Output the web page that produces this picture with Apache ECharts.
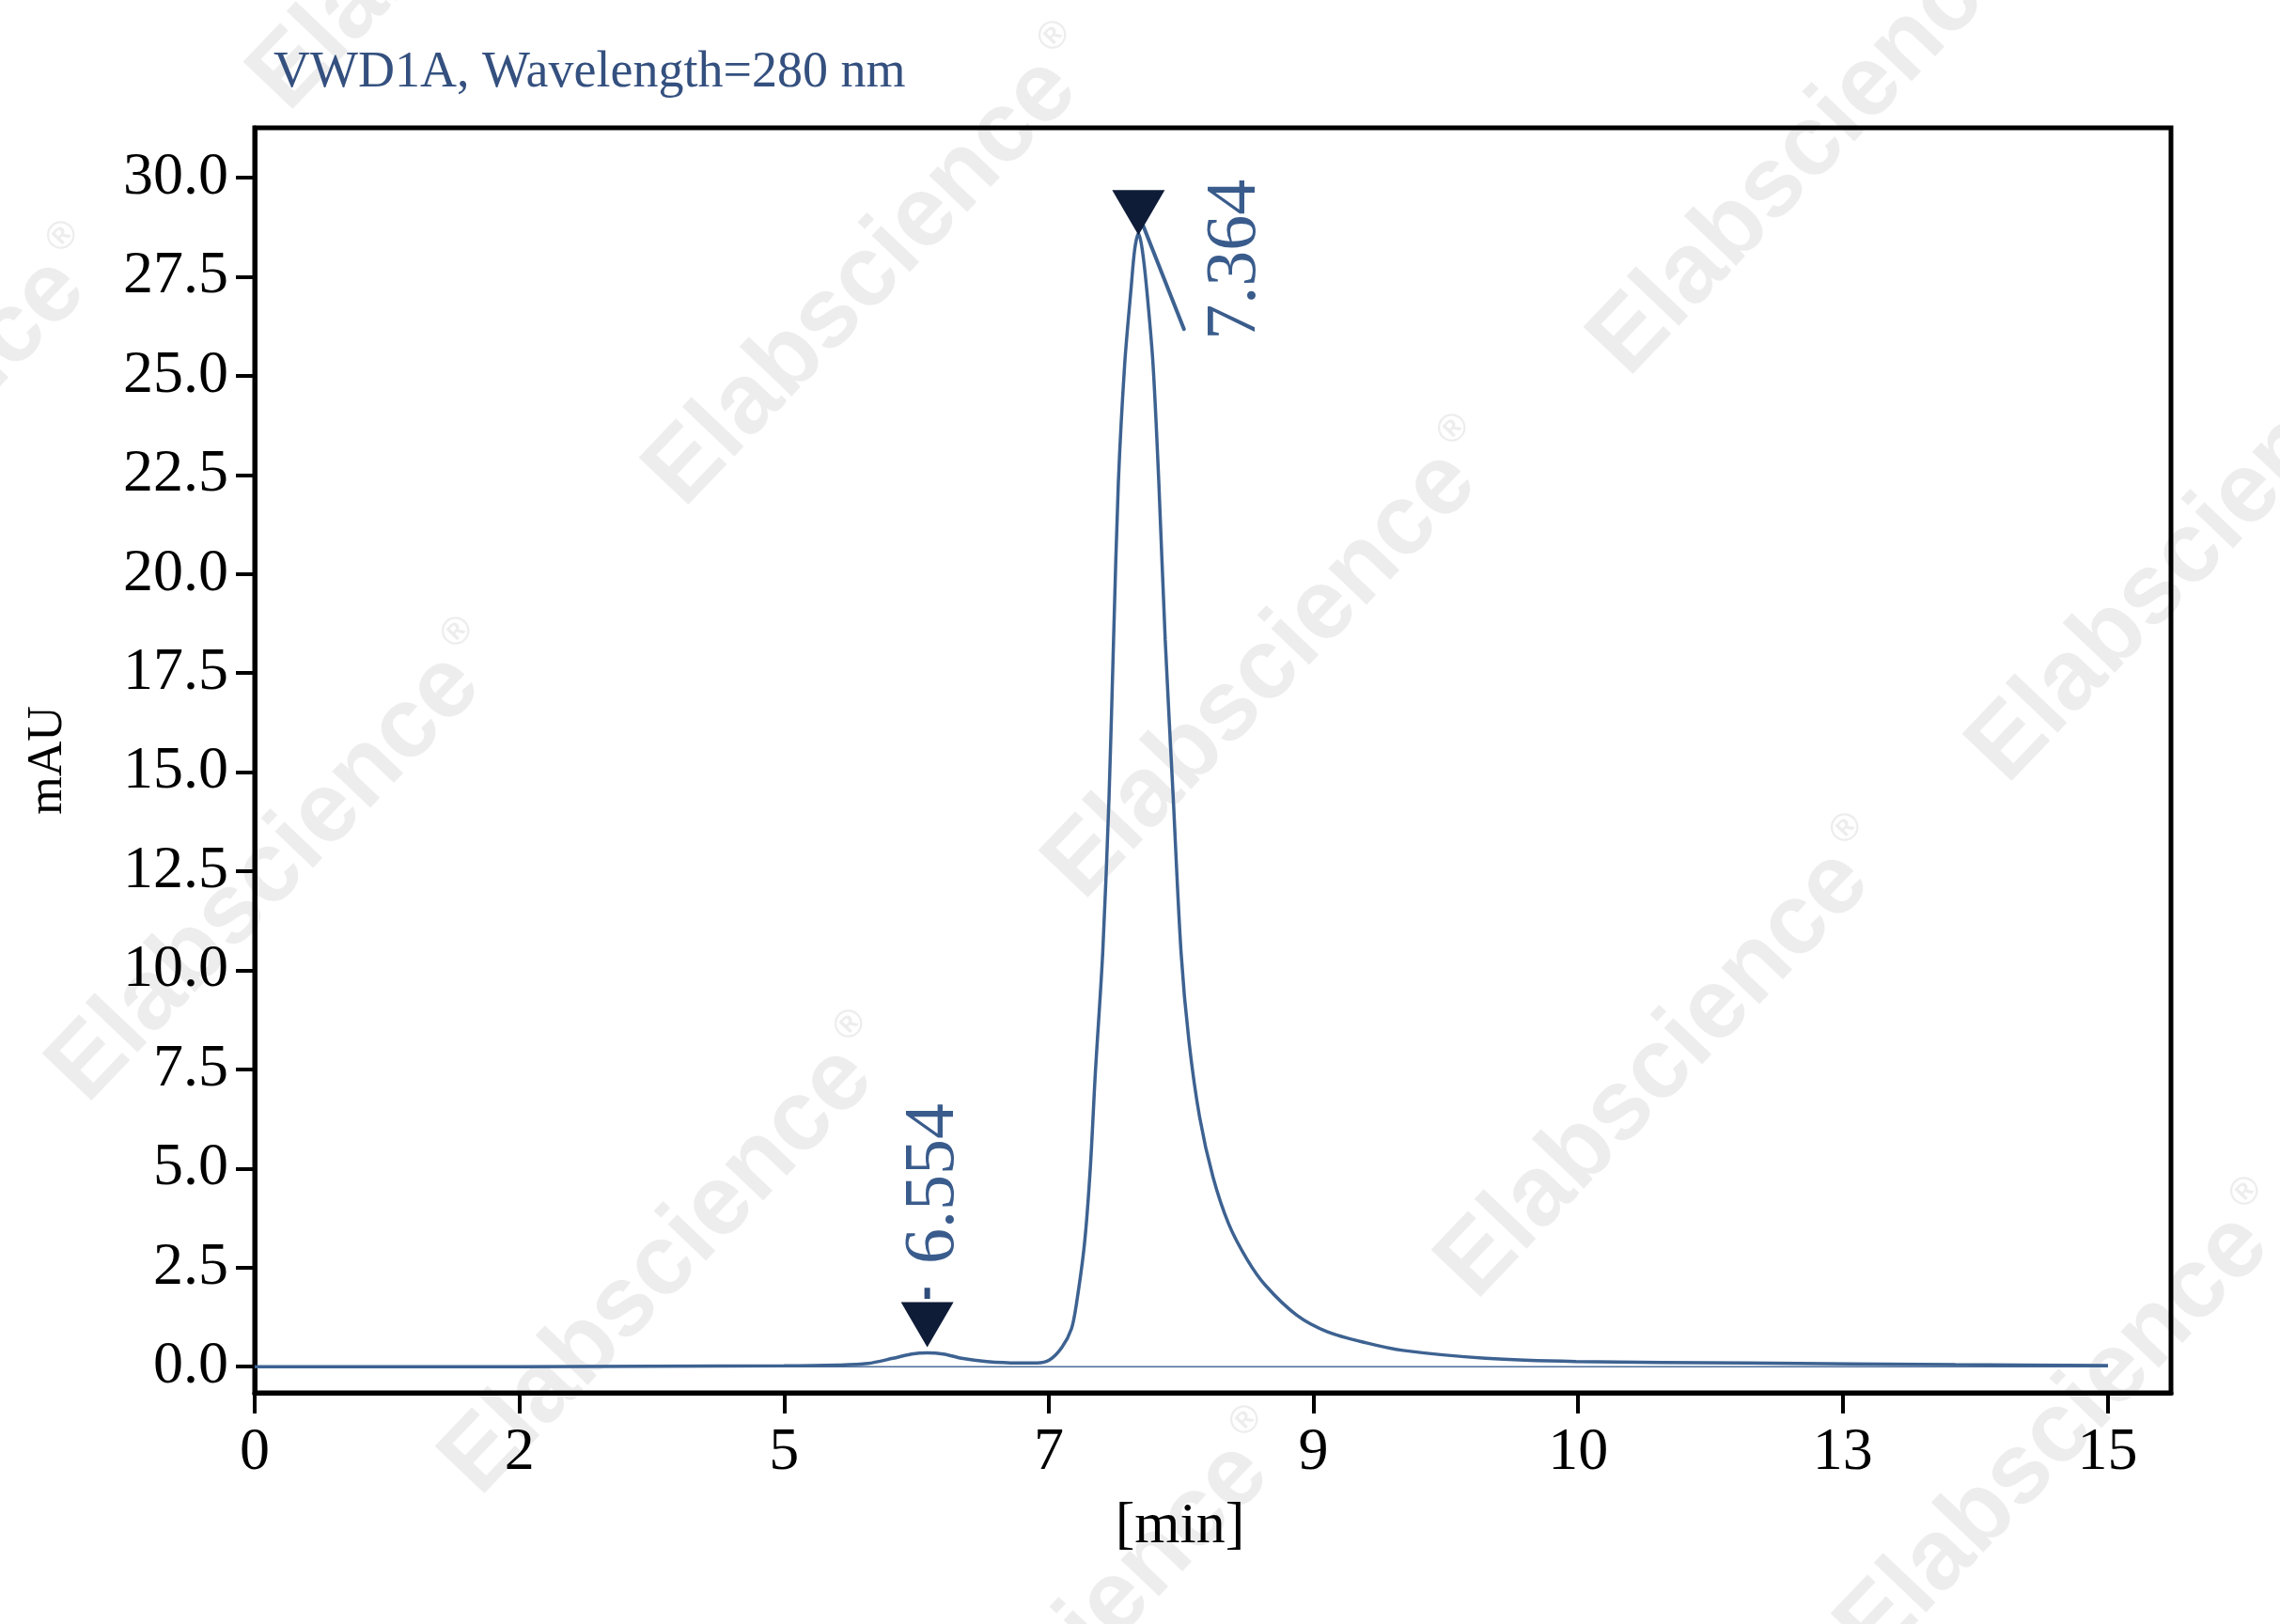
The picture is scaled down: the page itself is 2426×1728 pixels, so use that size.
<!DOCTYPE html>
<html>
<head>
<meta charset="utf-8">
<script src="https://cdn.jsdelivr.net/npm/echarts@6/dist/echarts.min.js"></script>
<style>
html,body{margin:0;padding:0;background:#fff;}
#chart{width:2426px;height:1728px;}
</style>
</head>
<body>
<div id="chart"></div>
<script>
// ---- data ----
const xTickLabels = ['0','2','5','7','9','10','13','15'];
const xTickPositions = [0,1,2,3,4,5,6,7];
const yTicks = [0,2.5,5,7.5,10,12.5,15,17.5,20,22.5,25,27.5,30];

const signalX = [0,0.5,1.0,1.5,2.0,2.2,2.316,2.411,2.482,2.541,2.601,2.671,2.766,2.885,2.955,3.003,3.050,3.086,3.105,3.135,3.157,3.176,3.204,3.228,3.245,3.263,3.287,3.311,3.325,3.339,3.353,3.370,3.394,3.416,3.440,3.470,3.500,3.530,3.570,3.620,3.680,3.750,3.819,3.937,4.053,4.200,4.338,4.651,4.992,5.640,6.425,7.002];
const signalY = [0,0,0,0.01,0.02,0.04,0.08,0.21,0.32,0.35,0.32,0.21,0.13,0.095,0.095,0.17,0.49,0.96,1.6,3.1,5.0,7.4,10.45,14.4,18.35,22.3,25.3,27.2,28.2,28.6,28.2,27.2,25.3,22.3,18.35,14.4,10.45,8.2,6.3,4.8,3.6,2.7,2.05,1.3,0.88,0.6,0.41,0.21,0.13,0.09,0.05,0.03];

const baselineX = [0, 7.002];
const baselineY = [0, 0];

const peakLabels = ['6.554','7.364'];
const peakX = [2.541, 3.339];
const peakY = [0.35, 28.6];

const leaderX = [3.357, 3.511];
const leaderY = [28.79, 26.18];

const dashX = [2.541, 2.541];
const dashY = [1.99, 1.71];

const titleText = 'VWD1A, Wavelength=280 nm';
const yName = 'mAU';
const xName = '[min]';

// ---- styles ----
const curveColor = '#3d6291';
const textBlue = '#3a5c8c';
const serif = 'Liberation Serif';
const peakStyles = [
  { symbolOffset: [0, -30], labelOffset: [150, 7] },
  { symbolOffset: [0, -22], labelOffset: [-50, 104] }
];

function zip(xs, ys) { return xs.map((x, i) => [x, ys[i]]); }

const watermarkCenters = [
  [931,286],[1936,147],[1356,704],[2339,580],[296,920],[1774,1129],
  [714,1338],[2199,1516],[-124,499],[510,-135],[1135,1759]
];
const graphics = watermarkCenters.map(c => ({
  type: 'text', x: c[0], y: c[1], rotation: 46.4 * Math.PI / 180, z: -10, silent: true,
  style: {
    text: '{a|Elabscience}{r|®}',
    align: 'center', verticalAlign: 'middle',
    rich: {
      a: { font: 'bold 106px "Liberation Sans"', fill: 'rgba(0,0,0,0.07)' },
      r: { font: 'bold 42px "Liberation Sans"', fill: 'rgba(0,0,0,0.07)', verticalAlign: 'top', padding: [0,0,56,8] }
    }
  }
}));

const chart = echarts.init(document.getElementById('chart'), null, { renderer: 'canvas' });
chart.setOption({
  backgroundColor: '#fff',
  animation: false,
  title: {
    text: titleText, left: 286, top: 46,
    textStyle: { fontFamily: serif, fontSize: 54, fontWeight: 'normal', color: '#34507f' }
  },
  graphic: graphics,
  grid: { left: 271, right: 116, top: 136, bottom: 246, show: true, borderColor: '#000', borderWidth: 5, backgroundColor: 'transparent' },
  xAxis: {
    type: 'value', min: 0, max: 7.24,
    name: xName, nameLocation: 'middle', nameGap: 112,
    nameTextStyle: { fontFamily: serif, fontSize: 62, color: '#000', padding: [0, 70, 0, 0] },
    axisLine: { show: true, onZero: false, lineStyle: { color: '#000', width: 5 } },
    axisTick: { show: true, customValues: xTickPositions, length: 22, lineStyle: { color: '#000', width: 4 } },
    axisLabel: { customValues: xTickPositions, margin: 32, fontFamily: serif, fontSize: 64, color: '#000',
      formatter: v => xTickLabels[Math.round(v)] },
    splitLine: { show: false }
  },
  yAxis: {
    type: 'value', min: -0.66, max: 31.26,
    name: yName, nameLocation: 'middle', nameGap: 194, nameRotate: 90,
    nameTextStyle: { fontFamily: serif, fontSize: 52, color: '#000' },
    axisLine: { show: true, onZero: false, lineStyle: { color: '#000', width: 5 } },
    axisTick: { show: true, customValues: yTicks, length: 20, lineStyle: { color: '#000', width: 4 } },
    axisLabel: { customValues: yTicks, margin: 28, fontFamily: serif, fontSize: 64, color: '#000',
      formatter: v => v.toFixed(1) },
    splitLine: { show: false }
  },
  series: [
    {
      type: 'line', name: 'baseline', data: zip(baselineX, baselineY), symbol: 'none', silent: true,
      lineStyle: { color: '#4a6c99', width: 1.5 }, z: 2
    },
    {
      type: 'line', name: 'signal', data: zip(signalX, signalY), symbol: 'none', smooth: 0.3,
      lineStyle: { color: curveColor, width: 3.5 }, z: 3
    },
    {
      type: 'line', name: 'leader', data: zip(leaderX, leaderY), symbol: 'none',
      lineStyle: { color: curveColor, width: 4, cap: 'round' }, z: 4
    },
    {
      type: 'line', name: 'dash', data: zip(dashX, dashY), symbol: 'none',
      lineStyle: { color: '#2e4c7a', width: 6 }, z: 4
    },
    {
      type: 'scatter', name: 'peaks', z: 5,
      symbol: 'path://M0,0 L100,0 L50,87 Z', symbolKeepAspect: false, symbolSize: [56, 48],
      itemStyle: { color: '#0e1c38', opacity: 1 },
      data: peakLabels.map((t, i) => ({
        value: [peakX[i], peakY[i]],
        name: t,
        symbolOffset: peakStyles[i].symbolOffset,
        label: {
          show: true, formatter: t, position: 'inside', rotate: 90,
          offset: peakStyles[i].labelOffset,
          fontFamily: serif, fontSize: 76, color: textBlue
        }
      }))
    }
  ]
});
</script>
</body>
</html>
